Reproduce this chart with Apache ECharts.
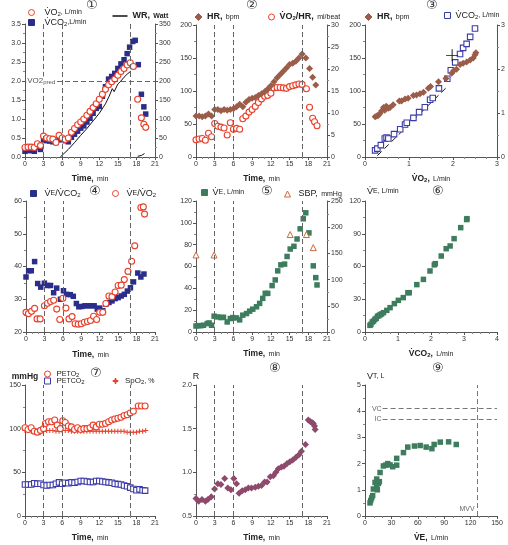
<!DOCTYPE html>
<html><head><meta charset="utf-8">
<script src="https://cdn.jsdelivr.net/npm/echarts@6/dist/echarts.min.js"></script>
<style>html,body{margin:0;padding:0;background:#fff}#c{width:508px;height:545px}</style>
</head><body><div id="c"></div>
<script>
// ---------- DATA ----------
const phaseTimes = [3, 6, 17];
// Panel 1
const vo2Time = [0,0.5,1,1.5,2,2.5,3,3.5,4,4.5,5,5.5,6,6.5,7,7.5,8,8.5,9,9.5,10,10.5,11,11.5,12,12.5,13,13.5,14,14.5,15,15.5,16,16.5,17,17.5,18.2,18.8,19.2,19.5];
const vo2 = [0.25,0.26,0.26,0.25,0.35,0.30,0.55,0.50,0.48,0.47,0.38,0.57,0.50,0.46,0.50,0.65,0.75,0.85,0.92,1.00,1.10,1.20,1.30,1.40,1.52,1.65,1.78,1.90,1.98,2.05,2.15,2.25,2.33,2.42,2.48,2.38,1.52,1.03,0.86,0.78];
const vco2Time = [0,0.5,1,1.5,2,2.5,3,3.5,4,4.5,5,5.5,6,6.5,7,7.5,8,8.5,9,9.5,10,10.5,11,11.5,12,12.5,13,13.5,14,14.5,15,15.5,16,16.5,16.9,17.4,17.8,18.3,18.8,19.2,19.5];
const vco2 = [0.15,0.17,0.17,0.15,0.25,0.20,0.45,0.43,0.42,0.40,0.40,0.45,0.47,0.43,0.40,0.52,0.60,0.68,0.76,0.82,0.92,1.02,1.15,1.28,1.33,1.60,1.85,2.05,2.12,2.20,2.33,2.45,2.56,2.72,2.89,3.04,3.07,2.43,1.65,1.32,1.13];
const wrTime = [5.7,7,8,9,10,11,12,13,13.6,14.1,14.4,15,15.5,16,16.5,17.1];
const wrWatt = [0,20,38,57,75,95,115,140,160,180,172,192,200,210,218,226];
const wrRecTime = [18.2,18.5,18.8,19.3];
const wrRecWatt = [2,6,4,9];
const vo2Pred = 2.0;
// Panel 2
const hrTime = [0,0.5,1,1.5,2,2.5,3,3.5,4,4.5,5,5.5,6,6.5,7,7.5,8,8.5,9,9.5,10,10.5,11,11.5,12,12.5,13,13.5,14,14.5,15,15.5,16,16.5,17,17.6,18.2,18.7,19.2];
const hr = [62,62,61,62,65,62,72,72,70,72,71,72,73,76,80,76,83,87,89,90,93,96,99,103,108,114,120,125,130,135,140,142,145,150,156,150,134,121,109];
const o2pTime = [0,0.5,1,1.5,2,2.5,3,3.5,4,4.5,5,5.5,6,6.5,7,7.5,8,8.5,9,9.5,10,10.5,11,11.5,12,12.5,13,13.5,14,14.5,15,15.5,16,16.5,17,17.7,18.2,18.7,19.0,19.4];
const o2pulse = [3.9,4.1,4.2,3.8,5.4,4.6,7.6,7.0,6.8,6.6,5.0,7.8,6.3,6.5,6.3,8.7,9.3,10.2,10.8,11.5,12.4,13.2,13.8,14.0,14.5,15.7,15.8,15.8,15.7,15.6,16.0,16.2,16.4,16.6,16.5,15.5,11.3,8.8,8.0,7.1];
// Panel 3
const p3Vo2Hr = [0.23,0.27,0.30,0.34,0.38,0.42,0.45,0.48,0.51,0.53,0.57,0.64,0.78,0.83,0.91,0.98,1.10,1.17,1.25,1.33,1.44,1.49,1.67,1.84,1.97,2.02,2.08,2.16,2.23,2.31,2.39,2.46,2.50,2.52];
const p3Hr = [61,62,63,66,70,75,71,77,75,74,75,79,85,85,88,89,93,94,96,98,104,107,114,119,127,131,133,140,142,144,147,150,155,158];
const p3Vo2Co2 = [0.23,0.28,0.36,0.45,0.49,0.53,0.66,0.80,0.91,0.95,1.10,1.23,1.36,1.48,1.54,1.68,1.87,1.95,2.05,2.16,2.23,2.31,2.39,2.50];
const p3Vco2 = [0.15,0.19,0.27,0.42,0.44,0.42,0.52,0.63,0.74,0.78,0.89,1.02,1.13,1.30,1.34,1.56,1.78,1.97,2.15,2.34,2.48,2.57,2.73,2.92];
const slopeRefX = [0.28, 1.84];
const slopeRefY = [0.03, 1.57];
const atVo2 = [1.98];
const atHr = [154];
// Panel 4
const eqco2Time = [0,0.43,0.86,1.4,1.9,2.4,3.0,3.5,4.0,4.5,5.0,5.6,6.1,6.6,7.2,7.7,8.2,8.6,9.1,9.6,10.1,10.6,11.1,11.6,12.0,12.5,13.0,13.5,14.0,14.5,15.0,15.5,16.0,16.5,17.0,17.5,18.2,18.7,19.2];
const eqco2 = [36.8,38.7,38.7,41.5,34.8,33.7,34.9,34.2,34.2,32.0,33.4,30.0,32.6,31.5,31.4,30.9,28.7,27.7,27.8,28.0,28.0,28.0,28.0,27.0,27.3,26.5,28.5,29.0,29.5,30.2,30.5,31.0,31.5,32.5,33.5,35.3,38.0,36.8,37.7];
const eqo2Time = [0,0.4,0.9,1.4,1.8,2.3,3.0,3.5,4.0,4.5,5.0,5.5,6.0,6.5,7.0,7.5,8.0,8.5,9.0,9.5,10.0,10.5,11.0,11.5,12.0,12.5,13.0,13.5,14.0,14.5,15.0,15.5,16.0,16.6,17.2,17.7,18.7,19.1,19.3];
const eqo2 = [26,25.6,26.3,27.2,24,24,28,28.8,29.3,29.7,27,23.8,30.3,27.3,24,24.7,22.5,22.4,22.5,23,23.2,23.5,24.8,23.8,26,26,28.7,31,30.8,32.2,34.2,34.3,36,38.5,41.6,46.3,58,58.2,56];
// Panel 5
const veTime = [0,0.4,0.8,1.2,1.8,2.1,2.5,2.9,3.5,4.0,4.4,5.0,5.5,5.9,6.5,7.0,7.5,8.1,8.6,9.1,9.7,10.2,10.7,11.1,11.5,12.2,12.7,13.1,13.6,14.2,14.6,15.1,15.7,16.2,16.7,17.2,17.6,18.1,18.8,19.2,19.4];
const ve = [5.5,5.8,5.8,6.2,7.7,8.3,6.2,14.5,13.8,13.2,13.5,9.2,12.3,13.2,12.9,11.1,15.4,16.9,19.1,20.9,23.1,26.2,30.8,35.4,35.4,42.5,47.7,56,61.5,62.2,69.2,76,78.5,85.2,94.5,103.7,109.2,90.8,60.6,49.8,43.1];
const sbpTime = [0,2.9,15.1,17.7,18.8];
const sbp = [147,147,186,186,161];
// Panel 6
const p6Vco2 = [0.15,0.18,0.22,0.26,0.30,0.34,0.38,0.42,0.46,0.50,0.56,0.66,0.76,0.89,1.01,1.16,1.30,1.34,1.57,1.77,1.97,2.10,2.13,2.31,2.46,2.58,2.70,2.90,3.08,3.09];
const p6Ve = [6.1,7.0,9.2,10.0,11.6,12.5,14.4,15.0,15.9,16.5,17.7,19.8,22.3,26,29,31.5,36,36,43.4,48.2,55.9,61.5,62.6,69.6,76.3,78.8,85.5,95.6,103,103.8];
// Panel 7
const peto2Time = [0,0.5,1,1.5,2,2.5,3,3.3,3.8,4.3,4.8,5.2,5.7,6.1,6.5,7,7.5,8,8.5,9,9.5,10,10.5,11,11.5,12,12.5,13,13.5,14,14.5,15,15.5,16,16.5,17,17.5,18.3,18.8,19.4];
const peto2 = [101,99,101,97,96,98,100,106,108,108,110,104,100,109,107,103,102,99,101,99,100,100,101,104,102,105,105,106,108,110,111,112,113,115,116,118,120,126,126,126];
const petco2Time = [0,0.5,1,1.5,2,2.5,3,3.5,4,4.5,5,5.5,6,6.5,7,7.5,8,8.5,9,9.5,10,10.5,11,11.5,12,12.5,13,13.5,14,14.5,15,15.5,16,16.5,17,17.5,18,18.5,19,19.4];
const petco2 = [36,36,36,37.5,37,37,35.5,35,35.5,35.5,37,38.5,37,38,37.5,38.5,38,39,40,40,39.5,39,39,40,40,39.5,39,38.5,38,37,36.5,36,35,34,32.5,31,29.5,30.5,29.5,29];
const spo2Time = [0,0.5,1,1.5,2,2.5,3,3.5,4,4.5,5,5.5,6,6.5,7,7.5,8,8.5,9,9.5,10,10.5,11,11.5,12,12.5,13,13.5,14,14.5,15,15.5,16,16.5,17,17.5,18,18.5,19,19.5];
const spo2 = [98,98,97,97,96,96,97,98,98,98,97,97,98,98,98,97,97,97,97,97,97,97,97,97,97,97,97,97,97,97,97,97,97,96,96,96,96,97,97,98];
// Panel 8
const rTime = [0,0.43,0.96,1.5,1.9,2.45,2.98,3.5,4.0,4.6,5.1,5.6,6.06,6.5,6.9,7.4,7.9,8.4,8.9,9.5,10.0,10.5,11.0,11.4,11.9,12.4,12.8,13.2,13.7,14.1,14.6,15.05,15.5,16.0,16.5,16.9,17.55,18.0,18.35,18.6,18.8,19.0,19.1];
const rVal = [0.70,0.67,0.69,0.67,0.69,0.72,0.81,0.87,0.86,0.93,0.82,0.80,0.93,0.87,0.76,0.79,0.80,0.82,0.82,0.83,0.84,0.85,0.89,0.89,0.95,0.96,1.00,1.04,1.06,1.07,1.10,1.12,1.14,1.17,1.20,1.24,1.32,1.60,1.58,1.57,1.56,1.53,1.49];
// Panel 9
const p9Ve = [5.7,6.5,7.6,8.7,9.5,11.4,13.3,13.3,14.0,15.2,16.3,17.1,20.9,23.5,25.8,28.5,31.5,36,36,43.7,48.6,56.2,62.7,69.5,76,78.6,85.5,95,103.7];
const p9Vt = [0.50,0.59,0.69,0.78,1.03,1.28,1.41,1.10,1.00,1.24,1.31,1.66,1.91,1.94,2.00,1.95,1.88,1.94,2.20,2.42,2.63,2.67,2.69,2.63,2.57,2.73,2.82,2.83,2.73];
const vcL = 4.1, icL = 3.7, lineStartVe = 20, mvv = 128;

// ---------- HELPERS ----------
const FF = 'Liberation Sans, Arial, sans-serif';
const C = '#222';
const rich = {
  b: {fontSize: 9, fontWeight: 'bold', color: C, fontFamily: FF},
  n: {fontSize: 9, color: C, fontFamily: FF},
  m: {fontSize: 8, color: C, fontFamily: FF},
  s: {fontSize: 7, color: C, fontFamily: FF},
  sb: {fontSize: 7, fontWeight: 'bold', color: C, fontFamily: FF},
  sub: {fontSize: 6, color: C, fontFamily: FF, padding: [3, 0, 0, 0]},
  subb: {fontSize: 6, fontWeight: 'bold', color: C, fontFamily: FF, padding: [3, 0, 0, 0]},
  t: {fontSize: 8.5, fontWeight: 'bold', color: C, fontFamily: FF},
  g: {fontSize: 8, color: '#555', fontFamily: FF},
  gs: {fontSize: 6, color: '#555', fontFamily: FF, padding: [3, 0, 0, 0]}
};
const zip = (a, b) => a.map((v, i) => [v, b[i]]);
const AX = '#555';
function xAx(gi, min, max, interval, name, nameGap, minorSplit) {
  return {type: 'value', gridIndex: gi, min, max, interval, name, nameLocation: 'middle', nameGap: nameGap || 16,
    nameTextStyle: {rich},
    axisLine: {show: true, onZero: false, lineStyle: {color: AX, width: 1}},
    axisTick: {show: true, length: 3, lineStyle: {color: AX}},
    minorTick: {show: true, splitNumber: minorSplit || 3, length: 2, lineStyle: {color: '#888'}},
    axisLabel: {fontSize: 7, color: '#333', margin: 4, fontFamily: FF},
    splitLine: {show: false}, minorSplitLine: {show: false}};
}
function yAx(gi, min, max, interval, pos, extra) {
  return Object.assign({type: 'value', gridIndex: gi, min, max, interval, position: pos || 'left',
    axisLine: {show: true, onZero: false, lineStyle: {color: AX, width: 1}},
    axisTick: {show: true, length: 3, lineStyle: {color: AX}},
    minorTick: {show: true, splitNumber: 2, length: 2, lineStyle: {color: '#888'}},
    axisLabel: {fontSize: 7, color: '#333', margin: 4, fontFamily: FF},
    splitLine: {show: false}, minorSplitLine: {show: false}}, extra || {});
}
function sc(name, xi, yi, data, symbol, size, fill, border, bw) {
  return {type: 'scatter', name, xAxisIndex: xi, yAxisIndex: yi, data, symbol, symbolSize: size,
    itemStyle: {color: fill, borderColor: border || fill, borderWidth: bw || 0, opacity: 1}, z: 3};
}
const phaseLines = () => ({silent: true, symbol: ['none', 'none'], label: {show: false},
  lineStyle: {color: '#666', type: [5, 3], width: 1}, data: phaseTimes.map(t => ({xAxis: t}))});
function leg(name, cx, cy, w, h, text, pad, icon) {
  return {data: [{name, icon}], left: cx - w / 2, top: cy - 6, itemWidth: w, itemHeight: h, padding: 0,
    selectedMode: false, formatter: () => text, itemStyle: {borderWidth: 1},
    textStyle: {rich, padding: [0, 0, 0, pad || 0]}};
}
const RED = '#e8412c', BLUE = '#2b2d8a', BROWN = '#9b5c48', GREEN = '#3d7d5e', OBLUE = '#3b3ba8', MAUVE = '#8e4a6c', TRI = '#c96a3a';
const PLUS = 'path://M4,0H6V4H10V6H6V10H4V6H0V4H4Z';
const CROSS = 'path://M0,9.2H20V10.8H0Z M9.2,0H10.8V20H9.2Z';
const timeName = '{t|Time,} {s|min}';

const grids = [
  {left: 25, top: 24, width: 130, height: 133},
  {left: 196, top: 25, width: 131, height: 132},
  {left: 365, top: 25, width: 132, height: 132},
  {left: 26, top: 201, width: 129, height: 131},
  {left: 196, top: 201, width: 131, height: 131},
  {left: 365, top: 201, width: 132, height: 131},
  {left: 25, top: 385, width: 130, height: 132},
  {left: 196, top: 385, width: 131, height: 132},
  {left: 365, top: 385, width: 132, height: 132}
];
const xAxes = [
  xAx(0, 0, 21, 3, timeName),
  xAx(1, 0, 21, 3, timeName),
  xAx(2, 0, 3, 1, '{t|V\u0307O}{subb|2}{t|,} {s|L/min}', 16, 4),
  xAx(3, 0, 21, 3, timeName, 17),
  xAx(4, 0, 21, 3, timeName, 16),
  xAx(5, 0, 4, 1, '{t|V\u0307CO}{subb|2}{t|,} {s|L/min}', 16, 4),
  xAx(6, 0, 21, 3, timeName, 16),
  xAx(7, 0, 21, 3, timeName, 16),
  xAx(8, 0, 150, 30, '{t|V\u0307E,} {s|L/min}', 16, 3)
];
const yAxes = [
  yAx(0, 0, 3.5, 0.5, 'left', {axisLabel: {fontSize: 7, color: '#333', margin: 4, fontFamily: FF, formatter: v => v.toFixed(1)}}),
  yAx(0, 0, 350, 50, 'right'),
  yAx(1, 0, 200, 50, 'left'),
  yAx(1, 0, 30, 5, 'right'),
  yAx(2, 0, 200, 50, 'left'),
  yAx(2, 0, 3, 1, 'right'),
  yAx(3, 20, 60, 10, 'left'),
  yAx(4, 0, 120, 20, 'left'),
  yAx(4, 0, 250, 50, 'right'),
  yAx(5, 0, 120, 30, 'left', {name: '{n|V\u0307}{s|E, L/min}', nameLocation: 'end', nameGap: 5, nameTextStyle: {rich, align: 'left', padding: [0, 0, 0, 2]}}),
  yAx(6, 0, 150, 50, 'left', {name: '{t|mmHg}', nameLocation: 'end', nameGap: 3, nameTextStyle: {rich}}),
  yAx(7, 0.5, 2.0, 0.5, 'left', {name: '{n|R}', nameLocation: 'end', nameGap: 4, nameTextStyle: {rich},
    axisLabel: {fontSize: 7, color: '#333', margin: 4, fontFamily: FF, formatter: v => v.toFixed(1)}}),
  yAx(8, 0, 5, 1, 'left', {name: '{n|V}{s|T, L}', nameLocation: 'end', nameGap: 4, nameTextStyle: {rich, align: 'left', padding: [0, 0, 0, 2]}})
];

const CS = 6, SS = 5.5, DS = 7;
const series = [
  // Panel 1
  {type: 'line', name: 'WR', xAxisIndex: 0, yAxisIndex: 1, data: zip(wrTime, wrWatt), symbol: 'none', showSymbol: false,
    lineStyle: {color: '#111', width: 1}, itemStyle: {color: '#111'}, z: 2},
  {type: 'line', name: 'WR', xAxisIndex: 0, yAxisIndex: 1, data: zip(wrRecTime, wrRecWatt), symbol: 'none', showSymbol: false,
    lineStyle: {color: '#111', width: 1}, itemStyle: {color: '#111'}, z: 2},
  sc('VCO2', 0, 0, zip(vco2Time, vco2), 'rect', SS, BLUE),
  Object.assign(sc('VO2', 0, 0, zip(vo2Time, vo2), 'circle', CS, '#fff', RED, 1.1), {
    markLine: Object.assign(phaseLines(), {data: phaseTimes.map(t => ({xAxis: t})).concat([{yAxis: vo2Pred}])}),
    markPoint: {symbol: 'circle', symbolSize: 0, silent: true,
      data: [{coord: [0.2, vo2Pred], label: {show: true, position: 'right', distance: 0, formatter: '{g|VO2}{gs|pred}',
        rich, backgroundColor: '#fff', padding: [0, 1, 0, 1]}}]}
  }),
  // Panel 2
  sc('VO2HR', 1, 3, zip(o2pTime, o2pulse), 'circle', CS, '#fff', RED, 1.1),
  Object.assign(sc('HR2', 1, 2, zip(hrTime, hr), 'diamond', DS, BROWN), {markLine: phaseLines()}),
  // Panel 3
  sc('VCO2_3', 2, 5, zip(p3Vo2Co2, p3Vco2), 'rect', SS, '#fff', OBLUE, 1.1),
  sc('HR3', 2, 4, zip(p3Vo2Hr, p3Hr), 'diamond', DS, BROWN),
  {type: 'line', name: 'slope', xAxisIndex: 2, yAxisIndex: 5, data: zip(slopeRefX, slopeRefY), symbol: 'none',
    lineStyle: {color: '#111', width: 1, type: [6, 4]}, z: 2},
  sc('AT', 2, 4, zip(atVo2, atHr), CROSS, 12, '#111'),
  // Panel 4
  Object.assign(sc('VEVCO2', 3, 6, zip(eqco2Time, eqco2), 'rect', SS, BLUE), {markLine: phaseLines()}),
  sc('VEVO2', 3, 6, zip(eqo2Time, eqo2), 'circle', CS, '#fff', RED, 1.1),
  // Panel 5
  Object.assign(sc('VE5', 4, 7, zip(veTime, ve), 'rect', SS, GREEN), {markLine: phaseLines()}),
  sc('SBP', 4, 8, zip(sbpTime, sbp), 'triangle', 6, '#fff', TRI, 1),
  // Panel 6
  sc('VE6', 5, 9, zip(p6Vco2, p6Ve), 'rect', SS, GREEN),
  // Panel 7
  sc('SpO2', 6, 10, zip(spo2Time, spo2), PLUS, 5, RED),
  Object.assign(sc('PETO2', 6, 10, zip(peto2Time, peto2), 'circle', CS, '#fff', RED, 1.1), {markLine: phaseLines()}),
  sc('PETCO2', 6, 10, zip(petco2Time, petco2), 'rect', SS, '#fff', OBLUE, 1.1),
  // Panel 8
  Object.assign(sc('R', 7, 11, zip(rTime, rVal), 'diamond', DS, MAUVE), {markLine: phaseLines()}),
  // Panel 9
  Object.assign(sc('VT', 8, 12, zip(p9Ve, p9Vt), 'rect', SS, GREEN), {
    markLine: {silent: true, symbol: ['none', 'none'], lineStyle: {color: '#777', type: [5, 3], width: 1},
      label: {show: true, position: 'start', distance: 1, fontSize: 7, color: '#666', fontFamily: FF},
      data: [
        [{coord: [lineStartVe, vcL], label: {formatter: 'VC'}}, {coord: [150, vcL]}],
        [{coord: [lineStartVe, icL], label: {formatter: 'IC'}}, {coord: [150, icL]}],
        {xAxis: mvv, label: {show: false}}
      ]},
    markPoint: {symbol: 'circle', symbolSize: 0, silent: true,
      data: [{coord: [mvv, 0.28], label: {show: true, position: 'left', distance: 3, formatter: 'MVV', fontSize: 7, color: '#666', fontFamily: FF}}]}
  })
];

const legends = [
  leg('VO2', 31, 14, 6, 6, '{n|V\u0307O}{sub|2}{s|, L/min}', 5, 'circle'),
  leg('VCO2', 31, 24, 6, 6, '{n|V\u0307CO}{sub|2}{s|,L/min}', 5, 'rect'),
  leg('WR', 120, 16, 15, 1.5, '{b|WR,} {sb|Watt}', 0, 'rect'),
  leg('HR2', 198, 17, 7, 7, '{b|HR,} {s|bpm}', 0, 'diamond'),
  leg('VO2HR', 271, 17, 6, 6, '{b|V\u0307O}{subb|2}{b|/HR,} {s|ml/beat}', 0, 'circle'),
  leg('HR3', 368, 17, 7, 7, '{b|HR,} {s|bpm}', 0, 'diamond'),
  leg('VCO2_3', 447, 17, 6, 6, '{n|V\u0307CO}{sub|2}{s|, L/min}', 0, 'rect'),
  leg('VEVCO2', 33, 195, 6, 6, '{n|V\u0307}{s|E}{n|/V\u0307CO}{sub|2}', 3, 'rect'),
  leg('VEVO2', 115, 195, 6, 6, '{n|V\u0307}{s|E}{n|/V\u0307O}{sub|2}', 3, 'circle'),
  leg('VE5', 204, 194, 6, 6, '{n|V\u0307}{s|E, L/min}', 0, 'rect'),
  leg('SBP', 287, 194, 6, 6, '{n|SBP,} {s|mmHg}', 3, 'triangle'),
  leg('PETO2', 47, 376, 6, 6, '{m|P}{s|ETO}{sub|2}', 1, 'circle'),
  leg('PETCO2', 47, 383, 6, 6, '{m|P}{s|ETCO}{sub|2}', 1, 'rect'),
  leg('SpO2', 115, 383, 5, 5, '{m|SpO}{sub|2}{s|, %}', 2, PLUS)
];

const circ = [['\u2460', 92, 7], ['\u2461', 252, 7], ['\u2462', 432, 7], ['\u2463', 95, 193], ['\u2464', 267, 193], ['\u2465', 438, 193], ['\u2466', 96, 375], ['\u2467', 275, 370], ['\u2468', 438, 370]];
const titles = circ.map(([t, x, y]) => ({text: t, left: x - 6, top: y - 8, padding: 0,
  textStyle: {fontSize: 13, fontWeight: 'normal', color: '#333', fontFamily: 'DejaVu Sans'}}));

const chart = echarts.init(document.getElementById('c'), null, {renderer: 'canvas'});
chart.setOption({
  animation: false,
  backgroundColor: '#fff',
  textStyle: {fontFamily: FF},
  title: titles,
  grid: grids,
  xAxis: xAxes,
  yAxis: yAxes,
  legend: legends,
  series
});
</script></body></html>
